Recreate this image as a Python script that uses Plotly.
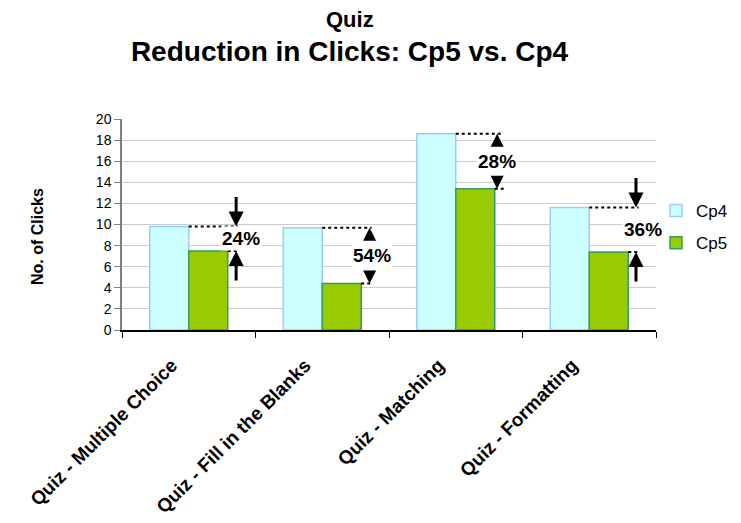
import plotly.graph_objects as go

# ---------------- data ----------------
categories = ["Quiz - Multiple Choice", "Quiz - Fill in the Blanks",
              "Quiz - Matching", "Quiz - Formatting"]
cp4_values = [9.8, 9.7, 18.6, 11.6]
cp5_values = [7.5, 4.4, 13.4, 7.4]
reduction_labels = ["24%", "54%", "28%", "36%"]
arrow_styles = ["in", "out", "out", "in"]
y_ticks = [0, 2, 4, 6, 8, 10, 12, 14, 16, 18, 20]

# ---------------- styling constants ----------------
BAR_W = 0.292                 # width of one bar in category units
LINE_END = [0.37, 0.37, 0.36, 0.37]
ARROW_DX = [0.355, 0.355, 0.31, 0.35]
LABEL_DX = [0.39, 0.37, 0.31, 0.40]
FONT = "Liberation Sans, Arial, sans-serif"

# figure geometry (page body has an 8px margin, so the figure is drawn 8px smaller)
W, H = 733, 515
L, R, T, B = 114, 648, 111, 322


def px_to_paper_x(px):
    return (px - L) / (R - L)


def px_to_paper_y(py):
    return (B - py) / (B - T)


fig = go.Figure()
fig.add_trace(go.Bar(
    name="Cp4", x=categories, y=cp4_values,
    marker=dict(color="#CCFFFF", line=dict(color="#99CCFF", width=1.5)),
    legendgroup="a",
))
fig.add_trace(go.Bar(
    name="Cp5", x=categories, y=cp5_values,
    marker=dict(color="#99CC00", line=dict(color="#339966", width=1.5)),
    legendgroup="b",
))

shapes = []
annotations = []
for i, (a, b, lab, st) in enumerate(zip(cp4_values, cp5_values, reduction_labels, arrow_styles)):
    # dotted reference lines
    shapes.append(dict(type="line", xref="x", yref="y", x0=i, x1=i + LINE_END[i], y0=a, y1=a,
                       line=dict(color="black", width=2, dash="dot")))
    shapes.append(dict(type="line", xref="x", yref="y", x0=i + BAR_W, x1=i + LINE_END[i], y0=b, y1=b,
                       line=dict(color="black", width=2, dash="dot")))
    ax_x = i + ARROW_DX[i]
    if st == "in":
        annotations.append(dict(x=ax_x, y=a, xref="x", yref="y", text="", showarrow=True,
                                ax=0, ay=-31, arrowhead=2, arrowsize=1, arrowwidth=3,
                                arrowcolor="black", standoff=0))
        annotations.append(dict(x=ax_x, y=b, xref="x", yref="y", text="", showarrow=True,
                                ax=0, ay=31, arrowhead=2, arrowsize=1, arrowwidth=3,
                                arrowcolor="black", standoff=0))
    else:
        annotations.append(dict(x=ax_x, y=a, xref="x", yref="y", text="", showarrow=True,
                                ax=0, ay=13, arrowhead=2, arrowsize=1, arrowwidth=2.6,
                                arrowcolor="black", standoff=0))
        annotations.append(dict(x=ax_x, y=b, xref="x", yref="y", text="", showarrow=True,
                                ax=0, ay=-13, arrowhead=2, arrowsize=1, arrowwidth=2.6,
                                arrowcolor="black", standoff=0))
    annotations.append(dict(x=i + LABEL_DX[i], y=(a + b) / 2, xref="x", yref="y", text=lab,
                            showarrow=False, bgcolor="white",
                            font=dict(family=FONT, size=19, color="black", weight="bold")))

# titles
annotations.append(dict(text="<b>Quiz</b>", xref="paper", yref="paper",
                        x=px_to_paper_x(342), y=px_to_paper_y(12),
                        xanchor="center", yanchor="middle", showarrow=False,
                        font=dict(family=FONT, size=22, color="black")))
annotations.append(dict(text="<b>No. of Clicks</b>", xref="paper", yref="paper",
                        x=px_to_paper_x(29), y=px_to_paper_y(229), textangle=-90,
                        xanchor="center", yanchor="middle", showarrow=False,
                        font=dict(family=FONT, size=16, color="black")))

fig.update_layout(
    width=W, height=H,
    margin=dict(l=L, r=W - R, t=T, b=H - B, autoexpand=False),
    paper_bgcolor="white", plot_bgcolor="white",
    title=dict(text="<b>Reduction in Clicks: Cp5 vs. Cp4</b>", x=341.5 / W, xanchor="center",
               y=1 - 43 / H, yanchor="middle",
               font=dict(family=FONT, size=28, color="black")),
    barmode="group", bargap=1 - 2 * BAR_W, bargroupgap=0,
    font=dict(family=FONT, color="black"),
    showlegend=True,
    legend=dict(x=px_to_paper_x(648), xanchor="left", y=px_to_paper_y(185), yanchor="top",
                font=dict(family=FONT, size=17, color="black"),
                tracegroupgap=7, bgcolor="rgba(0,0,0,0)"),
    shapes=shapes, annotations=annotations,
)
fig.update_xaxes(
    type="category", tickangle=-45, tickson="boundaries", ticks="outside", ticklen=6,
    tickcolor="black", showline=True, linecolor="black", linewidth=1.5,
    showgrid=False, automargin=False,
    ticklabelstandoff=15, ticklabelshift=-17,
    tickfont=dict(family=FONT, size=19, color="black", weight="bold"),
    range=[-0.5, 3.5],
)
fig.update_yaxes(
    range=[0, 20], tickvals=y_ticks, ticks="outside", ticklen=6, tickcolor="#808080",
    showline=True, linecolor="#808080", linewidth=1.5, automargin=False,
    showgrid=True, gridcolor="#CCCCCC", gridwidth=1, zeroline=False,
    tickfont=dict(family=FONT, size=14, color="black"),
)

fig.write_html("out.html")
